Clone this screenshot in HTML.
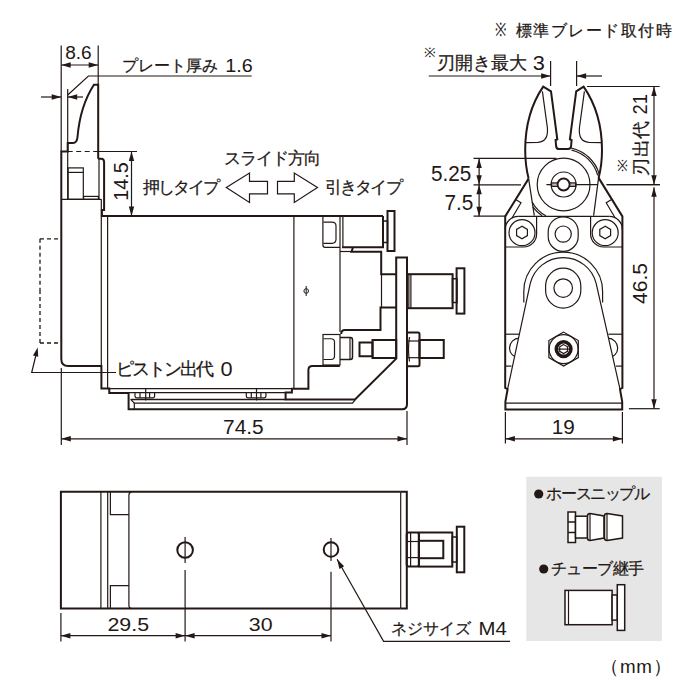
<!DOCTYPE html>
<html><head><meta charset="utf-8"><style>
html,body{margin:0;padding:0;background:#fff;width:700px;height:700px;overflow:hidden}
svg{display:block}
text{font-family:"Liberation Sans",sans-serif;fill:#231815;stroke:none}
text.j{stroke:#231815;stroke-width:0.25px}
</style></head><body>
<svg width="700" height="700" viewBox="0 0 700 700" stroke="#231815" fill="none" stroke-linecap="butt" stroke-linejoin="miter">
<line x1="61.2" y1="45.5" x2="61.2" y2="151.5" stroke-width="1.2"/>
<line x1="98.2" y1="45.5" x2="98.2" y2="84.7" stroke-width="1.2"/>
<line x1="61.2" y1="65" x2="98.2" y2="65" stroke-width="1.2"/>
<polygon points="61.20,65.00 70.70,62.30 70.70,67.70" stroke="none" fill="#231815"/>
<polygon points="98.20,65.00 88.70,62.30 88.70,67.70" stroke="none" fill="#231815"/>
<path d="M67.7,95 L88.4,76 L251.7,76" stroke-width="1.2" fill="none" />
<line x1="41" y1="97" x2="61.2" y2="97" stroke-width="1.2"/>
<polygon points="61.20,97.00 51.70,94.30 51.70,99.70" stroke="none" fill="#231815"/>
<line x1="67.7" y1="97" x2="83" y2="97" stroke-width="1.2"/>
<polygon points="67.70,97.00 77.20,94.30 77.20,99.70" stroke="none" fill="#231815"/>
<line x1="67.7" y1="89" x2="67.7" y2="199.3" stroke-width="1.2"/>
<path d="M98.2,158.7 L98.2,84.7 L93.9,84.7 C86,97 79.5,113 77.5,137 Q77,143 73,143 L67.7,143 L67.7,151.5 L61.3,151.5 L61.3,359 Q61.3,366 68.3,366 L101.4,366 L101.4,388.6 L109.3,388.6 L109.3,392.9 L128.6,392.9 L128.6,409.3 L402,409.3 Q407,409.3 407,404.3 L407,257.5 L396.2,257.5 L396.2,358.7 L355,399.4 L285.6,399.4 L285.6,392.6 L291.9,392.6 L291.9,388.8 L308.4,388.8 L308.4,370 Q308.4,366 312.4,366 L339.8,366" stroke-width="2.0" fill="none" />
<path d="M98.2,158.7 L101,158.7 Q104.1,158.7 104.1,162 L104.1,210.1 L101.9,210.1 L101.9,215.9 L383,215.9" stroke-width="2.0" fill="none" />
<path d="M40,238.8 L61.3,238.8" stroke-width="1.3" fill="none" stroke-dasharray="4,3"/>
<path d="M40,238.8 L40,291" stroke-width="1.3" fill="none" stroke-dasharray="4,3"/>
<path d="M40,343 L40,291" stroke-width="1.3" fill="none" stroke-dasharray="4,3"/>
<path d="M40,343 L61.3,343" stroke-width="1.3" fill="none" stroke-dasharray="4,3"/>
<path d="M116,372.5 L31.7,372.5 L36.2,354" stroke-width="1.2" fill="none" />
<polygon points="37.70,347.40 38.22,356.78 32.97,355.52" stroke="none" fill="#231815"/>
<line x1="67.7" y1="151.5" x2="98.2" y2="151.5" stroke-width="1.2" stroke-dasharray="5,3.5"/>
<line x1="98.2" y1="151.5" x2="137" y2="151.5" stroke-width="1.2"/>
<line x1="131.5" y1="151.5" x2="131.5" y2="215.9" stroke-width="1.2"/>
<polygon points="131.50,151.50 128.80,161.00 134.20,161.00" stroke="none" fill="#231815"/>
<polygon points="131.50,215.90 128.80,206.40 134.20,206.40" stroke="none" fill="#231815"/>
<rect x="68.1" y="167.9" width="15.2" height="31.4" stroke-width="1.2" fill="none"/>
<line x1="68.1" y1="172.4" x2="83.3" y2="172.4" stroke-width="1.2"/>
<rect x="83.6" y="196.4" width="14.8" height="2.9" stroke-width="1.2" fill="none"/>
<line x1="61.3" y1="199.3" x2="101.3" y2="199.3" stroke-width="1.2"/>
<line x1="99" y1="158.7" x2="99" y2="199.3" stroke-width="1.2"/>
<line x1="101.3" y1="199.3" x2="101.3" y2="366" stroke-width="1.2"/>
<line x1="107.6" y1="215.9" x2="107.6" y2="388.6" stroke-width="1.2"/>
<line x1="293.9" y1="215.9" x2="293.9" y2="388.6" stroke-width="1.2"/>
<line x1="107.6" y1="388.6" x2="291.9" y2="388.6" stroke-width="1.2"/>
<circle cx="306.2" cy="291" r="2.3" stroke-width="1.0" fill="none"/>
<line x1="306.2" y1="286" x2="306.2" y2="296" stroke-width="1.0"/>
<path d="M322.9,215.9 L322.9,245 Q322.9,247.3 325.2,247.3 L340,247.3" stroke-width="1.2" fill="none" />
<path d="M323.4,222.1 L332,222.1 Q336,222.1 336,226 L336,239.3 Q336,243.3 332,243.3 L323.4,243.3" stroke-width="1.2" fill="none" />
<line x1="340" y1="215.9" x2="340" y2="332" stroke-width="1.2"/>
<line x1="342.9" y1="215.9" x2="342.9" y2="246.7" stroke-width="1.2"/>
<path d="M342,247.2 L383,247.2 L383,215.9" stroke-width="2.0" fill="none" />
<rect x="383" y="221" width="4.5" height="21.5" stroke-width="1.5" fill="none"/>
<rect x="387.5" y="211" width="7" height="40" stroke-width="2.0" fill="none"/>
<line x1="340" y1="251.5" x2="351.5" y2="251.5" stroke-width="1.2"/>
<path d="M353,247.3 L351.5,251.8 L381.2,251.8 L381.2,274.2 L396.2,274.2" stroke-width="2.0" fill="none" />
<line x1="381.5" y1="273.75" x2="381.5" y2="307.5" stroke-width="1.2"/>
<path d="M396.2,307.5 L380.5,307.5 L380.5,330 L345,330 Q341.2,330 341.2,334" stroke-width="2.0" fill="none" />
<rect x="407.2" y="274.2" width="45.4" height="34" stroke-width="2.0" fill="none"/>
<line x1="408.9" y1="274.2" x2="408.9" y2="308.2" stroke-width="1.2"/>
<line x1="410.9" y1="274.2" x2="410.9" y2="308.2" stroke-width="1.2"/>
<rect x="452.5" y="278.75" width="4.5" height="23.75" stroke-width="1.5" fill="none"/>
<rect x="456.6" y="268.3" width="7.8" height="45.3" stroke-width="2.0" fill="none"/>
<rect x="323" y="334.5" width="17" height="30.5" stroke-width="1.2" fill="none"/>
<path d="M323.4,338.75 L331,338.75 Q334.5,338.75 334.5,342 L334.5,356 Q334.5,359.5 331,359.5 L323.4,359.5" stroke-width="1.2" fill="none" />
<path d="M340,337.5 L350.5,337.5 Q352.5,337.5 352.5,340 L352.5,357 Q352.5,359.5 350.5,359.5 L340,359.5" stroke-width="1.5" fill="none" />
<line x1="350" y1="337.5" x2="350" y2="359.5" stroke-width="1.2"/>
<rect x="359.5" y="342.5" width="13" height="13.75" stroke-width="2.0" fill="none"/>
<rect x="372.5" y="340" width="23.7" height="18" stroke-width="2.0" fill="none"/>
<rect x="407" y="332.5" width="12.5" height="33.75" stroke-width="2.0" fill="none" rx="1.5"/>
<path d="M409.5,337 Q407.5,349 409.5,361.5" stroke-width="1.2" fill="none" />
<line x1="407" y1="341" x2="419.5" y2="341" stroke-width="1.2"/>
<line x1="407" y1="357.7" x2="419.5" y2="357.7" stroke-width="1.2"/>
<rect x="419.5" y="340" width="24.25" height="18" stroke-width="2.0" fill="none"/>
<line x1="128.6" y1="392.6" x2="285.6" y2="392.6" stroke-width="1.2"/>
<line x1="130.7" y1="399.4" x2="285.6" y2="399.4" stroke-width="1.5"/>
<path d="M130.7,399.4 L134.3,403.1 L352.5,403.1 L355,400" stroke-width="1.2" fill="none" />
<line x1="134.3" y1="403.1" x2="134.3" y2="409.3" stroke-width="1.2"/>
<path d="M135,392.6 L135,396 Q135,397.8 137,397.8 L152.6,397.8 Q154.6,397.8 154.6,396 L154.6,392.6" stroke-width="1.2" fill="none" />
<line x1="140" y1="392.6" x2="140" y2="397.8" stroke-width="1.2"/>
<line x1="149.6" y1="392.6" x2="149.6" y2="397.8" stroke-width="1.2"/>
<line x1="145.7" y1="388.6" x2="145.7" y2="400.5" stroke-width="1.2"/>
<path d="M246.3,392.6 L246.3,396 Q246.3,397.8 248.3,397.8 L263.90000000000003,397.8 Q265.90000000000003,397.8 265.90000000000003,396 L265.90000000000003,392.6" stroke-width="1.2" fill="none" />
<line x1="251.3" y1="392.6" x2="251.3" y2="397.8" stroke-width="1.2"/>
<line x1="260.90000000000003" y1="392.6" x2="260.90000000000003" y2="397.8" stroke-width="1.2"/>
<line x1="256.5" y1="388.6" x2="256.5" y2="400.5" stroke-width="1.2"/>
<line x1="61.3" y1="368" x2="61.3" y2="445" stroke-width="1.2"/>
<line x1="407" y1="411" x2="407" y2="445" stroke-width="1.2"/>
<line x1="61.3" y1="438.8" x2="407" y2="438.8" stroke-width="1.2"/>
<polygon points="61.30,438.80 70.80,436.10 70.80,441.50" stroke="none" fill="#231815"/>
<polygon points="407.00,438.80 397.50,436.10 397.50,441.50" stroke="none" fill="#231815"/>
<path d="M226.3,187.5 L249.5,173 L249.5,181.3 L267.5,181.3 L267.5,193.8 L249.5,193.8 L249.5,202.5 Z" stroke-width="1.2" fill="#fff" />
<path d="M317.5,187.5 L294.3,173 L294.3,181.3 L277.5,181.3 L277.5,193.8 L294.3,193.8 L294.3,202.5 Z" stroke-width="1.2" fill="#fff" />
<line x1="428.75" y1="76" x2="550.6" y2="76" stroke-width="1.2"/>
<polygon points="550.60,76.00 541.10,73.30 541.10,78.70" stroke="none" fill="#231815"/>
<line x1="576.6" y1="76" x2="602" y2="76" stroke-width="1.2"/>
<polygon points="576.60,76.00 586.10,73.30 586.10,78.70" stroke="none" fill="#231815"/>
<line x1="550.6" y1="61" x2="550.6" y2="86" stroke-width="1.2"/>
<line x1="576.6" y1="61" x2="576.6" y2="86" stroke-width="1.2"/>
<path d="M528.6,178.6 Q525.2,165 525.2,150 C525.2,127 530,106 543.2,86.6 L551,91.4 L557.3,139.4 L555.6,140 L556.1,146 Q556.5,149.1 559,149.1 L568,149.1 Q570.9,149.1 571.1,146 L571.6,140 L569.9,139.4 L576.2,91.4 L583.6,86.6 C597,106 602,127 602,150 Q602,165 598.6,177.9" stroke-width="2.0" fill="none" />
<path d="M542.4,91.4 L547.4,128 Q548.5,141.7 538,142.3 L525.5,142.6" stroke-width="1.2" fill="none" />
<path d="M584.4,91.4 L579.4,128 Q578.3,141.7 588.8,142.3 L601.3,142.6" stroke-width="1.2" fill="none" />
<line x1="528.6" y1="178.6" x2="534.3" y2="215.7" stroke-width="1.2"/>
<line x1="598.6" y1="177.9" x2="593.6" y2="215.7" stroke-width="1.2"/>
<path d="M528.6,178.6 L505.2,216.4 L505.2,388 L507.6,389.2 L505.4,401.5 L505.4,409.4 L622.2,409.4 L622.2,401.5 L620,389.2 L622.4,388 L622.4,216.4 L598.6,177.9" stroke-width="2.0" fill="none" />
<line x1="473.5" y1="158.4" x2="556.4" y2="158.4" stroke-width="1.2"/>
<line x1="473.5" y1="184.8" x2="521" y2="184.8" stroke-width="1.2"/>
<line x1="473.5" y1="216.2" x2="505.2" y2="216.2" stroke-width="1.2"/>
<line x1="518.2" y1="216.4" x2="609.4" y2="216.4" stroke-width="1.2"/>
<line x1="479.1" y1="158.4" x2="479.1" y2="216.2" stroke-width="1.2"/>
<polygon points="479.10,158.40 476.40,167.90 481.80,167.90" stroke="none" fill="#231815"/>
<polygon points="479.10,184.80 476.40,175.30 481.80,175.30" stroke="none" fill="#231815"/>
<polygon points="479.10,184.80 476.40,194.30 481.80,194.30" stroke="none" fill="#231815"/>
<polygon points="479.10,216.20 476.40,206.70 481.80,206.70" stroke="none" fill="#231815"/>
<circle cx="563.6" cy="184.5" r="26.4" stroke-width="1.2" fill="none"/>
<circle cx="563.6" cy="184.5" r="12.5" stroke-width="1.2" fill="none"/>
<line x1="546.4" y1="184.7" x2="597.9" y2="184.7" stroke-width="1.2"/>
<rect x="551.6" y="182.9" width="24" height="3.5" stroke-width="1.2" fill="#bbb"/>
<circle cx="563.6" cy="184.5" r="6" stroke-width="1.8" fill="#fff"/>
<line x1="606.4" y1="184.7" x2="660" y2="184.7" stroke-width="1.2"/>
<path d="M571.54,150.10 A35.3 35.3 0 0 1 597.70,175.36" stroke-width="1.2" fill="none" />
<path d="M571.31,148.21 A37.1 37.1 0 0 1 599.17,173.96" stroke-width="1.2" fill="none" />
<path d="M532.11,201.95 A36 36 0 0 0 545.87,215.83" stroke-width="1.2" fill="none" />
<path d="M532.86,206.84 A38 38 0 0 0 542.08,215.82" stroke-width="1.2" fill="none" />
<path d="M516,199.75 L521,202.75 L512,218" stroke-width="1.2" fill="none" />
<path d="M611.2,199.75 L606.2,202.75 L615.2,218" stroke-width="1.2" fill="none" />
<path d="M505.2,229.4 A13 13 0 0 1 518.2,216.4" stroke-width="1.2" fill="none" />
<path d="M536.6,216.4 L536.6,234 A13 13 0 0 1 523.6,247 L505.2,247" stroke-width="1.2" fill="none" />
<path d="M622.4,229.4 A13 13 0 0 0 609.4,216.4" stroke-width="1.2" fill="none" />
<path d="M590.6,216.4 L590.6,234 A13 13 0 0 0 603.6,247 L622.4,247" stroke-width="1.2" fill="none" />
<circle cx="522" cy="232.7" r="13" stroke-width="1.2" fill="none"/>
<polygon points="522.00,226.25 516.59,229.38 516.59,235.62 522.00,238.75 527.41,235.62 527.41,229.38" stroke-width="1.2" fill="none"/>
<circle cx="605.2" cy="232.7" r="13" stroke-width="1.2" fill="none"/>
<polygon points="605.20,226.25 599.79,229.38 599.79,235.62 605.20,238.75 610.61,235.62 610.61,229.38" stroke-width="1.2" fill="none"/>
<rect x="548.2" y="216.8" width="30" height="34.6" stroke-width="1.2" fill="none" rx="15"/>
<circle cx="563.2" cy="234.1" r="8.1" stroke-width="1.2" fill="none"/>
<path d="M523.8,302.6 L523.8,291.5 A39.4 39.4 0 0 1 602.6,291.5 L602.6,302.6" stroke-width="1.2" fill="none" />
<path d="M507.6,389.2 L530.2,283.7 A33.9 33.9 0 0 1 596.2,283.7 L620,389.2" stroke-width="1.2" fill="none" />
<rect x="545.6" y="268.2" width="35.2" height="39.9" stroke-width="1.2" fill="none" rx="17.6"/>
<circle cx="563.2" cy="288.1" r="9.3" stroke-width="1.2" fill="none"/>
<line x1="505.2" y1="334.2" x2="519" y2="334.2" stroke-width="1.2"/>
<line x1="505.2" y1="366.1" x2="511.5" y2="366.1" stroke-width="1.2"/>
<clipPath id="cl"><polygon points="500,280 530.2,283.7 507.6,389.2 500,389.2"/></clipPath>
<clipPath id="cr"><polygon points="627,280 596.2,283.7 619.6,389.2 627,389.2"/></clipPath>
<circle cx="519.3" cy="348" r="9.8" stroke-width="1.2" fill="none" clip-path="url(#cl)"/>
<line x1="622.4" y1="334.2" x2="608.4" y2="334.2" stroke-width="1.2"/>
<line x1="622.4" y1="366.1" x2="615.9" y2="366.1" stroke-width="1.2"/>
<circle cx="607.9" cy="348" r="9.8" stroke-width="1.2" fill="none" clip-path="url(#cr)"/>
<polygon points="563.60,332.10 548.88,340.60 548.88,357.60 563.60,366.10 578.32,357.60 578.32,340.60" stroke-width="1.2" fill="none"/>
<circle cx="563.6" cy="349.1" r="14.5" stroke-width="1.2" fill="none"/>
<circle cx="563.6" cy="349.1" r="7.3" stroke-width="3.6" fill="none"/>
<polygon points="563.60,344.60 559.70,346.85 559.70,351.35 563.60,353.60 567.50,351.35 567.50,346.85" stroke-width="1.2" fill="#fff"/>
<line x1="556" y1="349.1" x2="571" y2="349.1" stroke-width="1.2"/>
<line x1="505.4" y1="403.2" x2="622.2" y2="403.2" stroke-width="1.2"/>
<line x1="505.4" y1="412" x2="505.4" y2="443.4" stroke-width="1.2"/>
<line x1="622.4" y1="412" x2="622.4" y2="443.4" stroke-width="1.2"/>
<line x1="505.4" y1="438.8" x2="622.4" y2="438.8" stroke-width="1.2"/>
<polygon points="505.40,438.80 514.90,436.10 514.90,441.50" stroke="none" fill="#231815"/>
<polygon points="622.40,438.80 612.90,436.10 612.90,441.50" stroke="none" fill="#231815"/>
<line x1="587" y1="86.5" x2="659.7" y2="86.5" stroke-width="1.2"/>
<line x1="607" y1="184.7" x2="659.7" y2="184.7" stroke-width="1.2"/>
<line x1="654" y1="86.5" x2="654" y2="184.7" stroke-width="1.2"/>
<polygon points="654.00,86.50 651.30,96.00 656.70,96.00" stroke="none" fill="#231815"/>
<polygon points="654.00,184.70 651.30,175.20 656.70,175.20" stroke="none" fill="#231815"/>
<line x1="654" y1="187.3" x2="654" y2="408.7" stroke-width="1.2"/>
<polygon points="654.00,187.30 651.30,196.80 656.70,196.80" stroke="none" fill="#231815"/>
<polygon points="654.00,408.70 651.30,399.20 656.70,399.20" stroke="none" fill="#231815"/>
<line x1="628.9" y1="408.7" x2="659.7" y2="408.7" stroke-width="1.2"/>
<path d="M400.7,491.8 L60.9,491.8 L60.9,608.6 L400.7,608.6" stroke-width="2.0" fill="none" />
<path d="M400.7,491.8 L406.8,491.8 L406.8,608.6 L400.7,608.6" stroke-width="2.0" fill="none" />
<line x1="400.7" y1="491.8" x2="400.7" y2="608.6" stroke-width="1.2"/>
<line x1="100.9" y1="491.8" x2="100.9" y2="608.6" stroke-width="1.2"/>
<line x1="107.7" y1="491.8" x2="107.7" y2="608.6" stroke-width="1.2"/>
<path d="M110.4,491.8 L110.4,514.6 L128.9,514.6" stroke-width="1.2" fill="none" />
<path d="M110.4,608.6 L110.4,585.7 L128.9,585.7" stroke-width="1.2" fill="none" />
<path d="M131.5,491.8 Q128.9,492.5 128.9,495 L128.9,605.4 Q128.9,607.9 131.5,608.6" stroke-width="1.2" fill="none" />
<circle cx="185.1" cy="550" r="7.8" stroke-width="2.0" fill="none"/>
<line x1="185.1" y1="537" x2="185.1" y2="563" stroke-width="1.2"/>
<line x1="185.1" y1="570" x2="185.1" y2="641.4" stroke-width="1.2"/>
<circle cx="331" cy="549.5" r="7.3" stroke-width="2.0" fill="none"/>
<line x1="331" y1="537.9" x2="331" y2="561" stroke-width="1.2"/>
<line x1="331" y1="571.8" x2="331" y2="641.4" stroke-width="1.2"/>
<line x1="60.9" y1="612.9" x2="60.9" y2="641.4" stroke-width="1.2"/>
<line x1="60.9" y1="635.7" x2="185.1" y2="635.7" stroke-width="1.2"/>
<polygon points="60.90,635.70 70.40,633.00 70.40,638.40" stroke="none" fill="#231815"/>
<polygon points="185.10,635.70 175.60,633.00 175.60,638.40" stroke="none" fill="#231815"/>
<line x1="185.1" y1="635.7" x2="331" y2="635.7" stroke-width="1.2"/>
<polygon points="185.10,635.70 194.60,633.00 194.60,638.40" stroke="none" fill="#231815"/>
<polygon points="331.00,635.70 321.50,633.00 321.50,638.40" stroke="none" fill="#231815"/>
<path d="M337.1,559.3 L383.6,641.4 L510,641.4" stroke-width="1.2" fill="none" />
<polygon points="337.10,559.30 344.13,566.24 339.43,568.90" stroke="none" fill="#231815"/>
<rect x="406.7" y="532.5" width="12.2" height="34.1" stroke-width="2.0" fill="none" rx="2"/>
<line x1="410.6" y1="532.5" x2="410.6" y2="566.6" stroke-width="1.2"/>
<line x1="406.7" y1="541.5" x2="418.9" y2="541.5" stroke-width="1.2"/>
<line x1="406.7" y1="557.6" x2="418.9" y2="557.6" stroke-width="1.2"/>
<rect x="418.9" y="532.5" width="33.4" height="34.1" stroke-width="2.0" fill="none"/>
<rect x="418.9" y="540.8" width="24.4" height="17.4" stroke-width="2.0" fill="none"/>
<rect x="452.3" y="537" width="4.5" height="25" stroke-width="1.5" fill="none"/>
<rect x="456.8" y="526.7" width="7.5" height="45.6" stroke-width="2.0" fill="none"/>
<rect x="526.3" y="476.8" width="135.7" height="164.2" fill="#e6e6e6" stroke="none"/>
<circle cx="538.7" cy="494" r="4.6" stroke-width="0" fill="#231815"/>
<circle cx="543.7" cy="569" r="4.6" stroke-width="0" fill="#231815"/>
<rect x="568" y="512" width="7.5" height="30.5" stroke-width="1.5" fill="#fff"/>
<line x1="568" y1="522" x2="575.5" y2="522" stroke-width="1.5"/>
<line x1="568" y1="532.5" x2="575.5" y2="532.5" stroke-width="1.5"/>
<rect x="575.5" y="516.2" width="12" height="21.8" stroke-width="1.5" fill="#fff"/>
<path d="M590,513.5 L604,516 L604,538 L590,540.5 Q587.5,540.5 587.5,538 L587.5,516 Q587.5,513.5 590,513.5 Z" stroke-width="1.5" fill="#fff" />
<line x1="590" y1="513.5" x2="590" y2="540.5" stroke-width="1.2"/>
<path d="M607,513.5 L622.5,516 L622.5,538 L607,540.5 Q604.5,540.5 604.5,538 L604.5,516 Q604.5,513.5 607,513.5 Z" stroke-width="1.5" fill="#fff" />
<line x1="607" y1="513.5" x2="607" y2="540.5" stroke-width="1.2"/>
<rect x="565" y="590.4" width="47.1" height="34.3" stroke-width="1.5" fill="#fff"/>
<line x1="568.5" y1="590.4" x2="568.5" y2="624.7" stroke-width="1.2"/>
<rect x="612.1" y="595" width="5.2" height="25.1" stroke-width="1.5" fill="#fff"/>
<rect x="617.3" y="584.7" width="7.4" height="45.7" stroke-width="1.5" fill="#fff"/>
<text transform="translate(65.2,58.88) scale(1.054,1)" font-size="18.06">8.6</text>
<text class="j" transform="translate(121.75,70.5)" font-size="15.58" style="letter-spacing:0.02px">プレート厚み</text>
<text transform="translate(225.27,72.25) scale(1.028,1)" font-size="19.25">1.6</text>
<text transform="translate(127.55,200.7) rotate(-90)" font-size="19.81">14.5</text>
<text class="j" transform="translate(143.3,192.65)" font-size="17.33" style="letter-spacing:-2.15px">押しタイプ</text>
<text class="j" transform="translate(223.65,164.0)" font-size="16.87" style="letter-spacing:-0.94px">スライド方向</text>
<text class="j" transform="translate(325.0,193.0)" font-size="16.81" style="letter-spacing:-1.85px">引きタイプ</text>
<text class="j" transform="translate(116.35,375.05)" font-size="17.5" style="letter-spacing:-2.14px">ピストン出代</text>
<text transform="translate(220.53,375.7) scale(1.07,1)" font-size="20.3">0</text>
<text transform="translate(223.01,434.15) scale(0.997,1)" font-size="20.98">74.5</text>
<text transform="translate(495.26,36.3) scale(0.736,1)" font-size="18.65">※</text>
<text class="j" transform="translate(515.65,36.1)" font-size="16.0" style="letter-spacing:1.51px">標準ブレード取付時</text>
<text transform="translate(423.93,57.0) scale(1.067,1)" font-size="13.09">※</text>
<text class="j" transform="translate(436.8,69.0)" font-size="18" style="letter-spacing:-0.05px">刃開き最大</text>
<text transform="translate(532.63,70.3) scale(1.07,1)" font-size="20.3">3</text>
<text transform="translate(431.02,180.8) scale(0.975,1)" font-size="21.27">5.25</text>
<text transform="translate(444.42,210.1) scale(0.979,1)" font-size="21.27">7.5</text>
<text class="j" transform="translate(646.75,176.05) rotate(-90)" font-size="17.5" style="letter-spacing:0.65px">刃出代</text>
<text transform="translate(646.85,114.53) rotate(-90) scale(0.93,1)" font-size="19.81">21</text>
<text transform="translate(627.1,172.32) rotate(-90) scale(1.222,1)" font-size="12.85">※</text>
<text transform="translate(647.25,304.0) rotate(-90) scale(1.023,1)" font-size="20.58">46.5</text>
<text transform="translate(551.77,434.0) scale(1.033,1)" font-size="20.11">19</text>
<text transform="translate(107.43,630.8) scale(1.176,1)" font-size="18.21">29.5</text>
<text transform="translate(248.82,630.8) scale(1.174,1)" font-size="18.21">30</text>
<text class="j" transform="translate(390.95,634.0)" font-size="16.0" style="letter-spacing:-0.09px">ネジサイズ</text>
<text transform="translate(478.6,635.2) scale(1.104,1)" font-size="18.42">M4</text>
<text class="j" transform="translate(546.45,499.1)" font-size="16" style="letter-spacing:-1.44px">ホースニップル</text>
<text class="j" transform="translate(551.0,574.0)" font-size="16.0" style="letter-spacing:-0.6px">チューブ継手</text>
<text transform="translate(600.15,673.3)" font-size="18.79" style="letter-spacing:0.76px">（mm）</text>
</svg>
</body></html>
